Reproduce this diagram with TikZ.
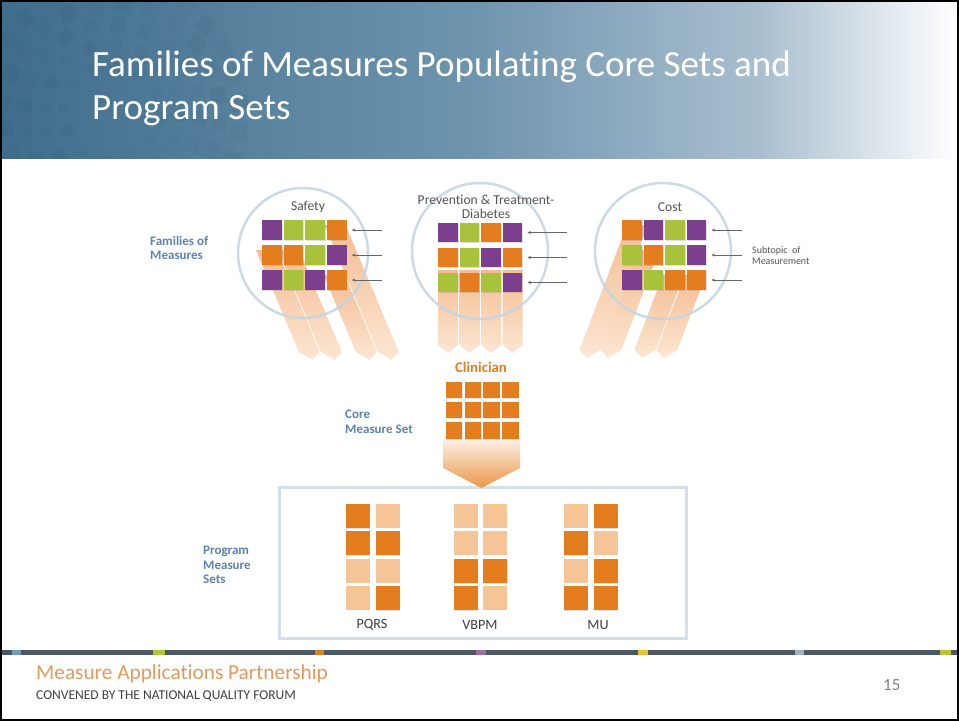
\documentclass[tikz,border=0pt]{standalone}
\usepackage{fontspec}
\setmainfont{Carlito}[Ligatures=NoCommon]
\usetikzlibrary{arrows.meta,shadows}
\definecolor{mpurple}{HTML}{7B3F8E}
\definecolor{mgreen}{HTML}{A8C23C}
\definecolor{morange}{HTML}{E37D1E}
\definecolor{mlight}{HTML}{F5C598}
\definecolor{mblue}{HTML}{5B84B1}
\definecolor{ringc}{HTML}{C3D4E2}
\definecolor{boxc}{HTML}{D3E0EA}
\definecolor{hA}{HTML}{3F6D8C}
\definecolor{hB}{HTML}{6F95AE}
\definecolor{hC}{HTML}{A9BFCF}
\definecolor{barc}{HTML}{4A5866}
\definecolor{beamtop}{HTML}{F3B686}
\definecolor{beambot}{HTML}{FCE4CF}
\definecolor{footor}{HTML}{E39A5C}
\definecolor{txtgray}{HTML}{555555}
\definecolor{segA}{HTML}{6E9BC0}
\definecolor{segB}{HTML}{B5C532}
\definecolor{segC}{HTML}{E37D1E}
\definecolor{segD}{HTML}{9E6BA8}
\definecolor{segE}{HTML}{E8C22A}
\definecolor{segF}{HTML}{9BB2C4}
\begin{document}
\begin{tikzpicture}[x=1pt,y=-1pt,
  fsq/.style={minimum size=19.5pt,inner sep=0pt,draw=none,drop shadow={shadow xshift=0.8pt,shadow yshift=-1.2pt,opacity=0.25}},
  csq/.style={minimum size=16.5pt,inner sep=0pt,fill=morange,drop shadow={shadow xshift=0.6pt,shadow yshift=-1pt,opacity=0.2}},
  psq/.style={minimum size=24pt,inner sep=0pt},
  dark/.style={psq,fill=morange,drop shadow={shadow xshift=0.8pt,shadow yshift=-1.2pt,opacity=0.25}},
  lite/.style={psq,fill=mlight},
  beam/.style={top color=beamtop,bottom color=beambot,draw=none,opacity=0.9},
  ring/.style={draw=ringc,line width=2.5pt,opacity=0.85},
  arr/.style={draw=gray!80!black,line width=0.6pt,-{Stealth[length=3.5pt,width=3pt]},shorten >=5pt},
  head/.style={font=\fontsize{13.6}{14}\selectfont,text=txtgray,inner sep=0pt},
  side/.style={font=\bfseries\fontsize{13}{14.5}\selectfont,text=mblue,align=left,anchor=west,inner sep=0pt},
  plab/.style={font=\fontsize{14.2}{15}\selectfont,text=black!75,inner sep=0pt}
]
\useasboundingbox (0,0) rectangle (959,721);
\fill[white] (0,0) rectangle (959,721);
% header
\shade[left color=hA,right color=hB] (0,0) rectangle (480.5,158);
\shade[left color=hB,right color=hC] (480,0) rectangle (760.5,158);
\shade[left color=hC,right color=white] (760,0) rectangle (959,158);
\begin{scope}
\clip (0,0) rectangle (959,158);
\begin{scope}[shift={(112,112)}]
\foreach \r/\n/\s in {48/12/10,68/16/12,88/20/14,108/24/16,128/28/17}{
  \foreach \i in {1,...,\n}{
    \pgfmathsetmacro\ang{360/\n*\i+7*\r}
    \pgfmathsetmacro\op{mod(\i*7+\r,5)<2 ? 0.11 : 0.05}
    \node[fill=hA!70!black,opacity=\op,minimum size=\s pt,inner sep=0pt,rotate=-\ang] at (\ang:\r) {};
  }
}
\end{scope}
\end{scope}
\node[anchor=base west,text=white,font=\fontsize{37}{40}\selectfont,inner sep=0pt] (title1) at (92,76) {Families of Measures Populating Core Sets and};
\node[anchor=base west,text=white,font=\fontsize{37}{40}\selectfont,inner sep=0pt] (title2) at (92,119) {Program Sets};

% ---- beams ----
\foreach \xl/\ys in {272/250,294/250,329/275,351/225}{
  \pgfmathsetmacro\xa{\xl+0.42*(\ys-288)}
  \pgfmathsetmacro\xb{\xl+0.42*(352-288)}
  \pgfmathsetmacro\xt{\xb+10.5+3.4}
  \shade[beam] (\xa,\ys) -- ++(21,0) -- (\xb+21,352) -- (\xt,360) -- (\xb,352) -- cycle;
}
\foreach \xl in {438,459.5,481,502.5}{
  \shade[beam] (\xl,270) -- ++(20,0) -- (\xl+20,345) -- (\xl+10,353) -- (\xl,345) -- cycle;
}
\foreach \xl/\ys in {603/225,624/250,658/275,680/275}{
  \pgfmathsetmacro\xa{\xl-0.38*(\ys-288)}
  \pgfmathsetmacro\xb{\xl-0.38*(350-288)}
  \pgfmathsetmacro\xt{\xb+10.5-3}
  \shade[beam] (\xa,\ys) -- ++(21,0) -- (\xb+21,350) -- (\xt,358) -- (\xb,350) -- cycle;
}

% ---- circles ----
\node[ring,circle,minimum size=130pt,inner sep=0pt] (c1) at (303,253) {};
\node[ring,circle,minimum size=136pt,inner sep=0pt] (c2) at (480,251) {};
\node[ring,circle,minimum size=136pt,inner sep=0pt] (c3) at (663,251) {};

% ---- family squares ----
\foreach \row/\y/\cols in {1/230/{mpurple,mgreen,mgreen,morange},2/255/{morange,morange,mgreen,mpurple},3/280/{mpurple,mgreen,mpurple,morange}}{
  \foreach \c [count=\k] in \cols {
    \pgfmathsetmacro\xx{272+21.6*(\k-1)}
    \node[fsq,fill=\c] (sa-\row-\k) at (\xx,\y) {};
  }
}
\foreach \row/\y/\cols in {1/232.5/{mpurple,mgreen,morange,mpurple},2/257.5/{morange,mgreen,mpurple,morange},3/282.5/{mgreen,morange,mgreen,mpurple}}{
  \foreach \c [count=\k] in \cols {
    \pgfmathsetmacro\xx{448+21.5*(\k-1)}
    \node[fsq,fill=\c] (pt-\row-\k) at (\xx,\y) {};
  }
}
\foreach \row/\y/\cols in {1/230/{morange,mpurple,mgreen,mpurple},2/255/{mgreen,morange,mgreen,mpurple},3/280/{mpurple,mgreen,morange,morange}}{
  \foreach \c [count=\k] in \cols {
    \pgfmathsetmacro\xx{632+21.5*(\k-1)}
    \node[fsq,fill=\c] (co-\row-\k) at (\xx,\y) {};
  }
}

% ---- arrows ----
\foreach \row/\y in {1/230,2/255,3/280}{
  \coordinate (saa-\row) at (382,\y);
  \draw[arr] (saa-\row) -- (sa-\row-4.east);
  \coordinate (cob-\row) at (742,\y);
  \draw[arr] (cob-\row) -- (co-\row-4.east);
}
\foreach \row/\y in {1/232.5,2/257.5,3/282.5}{
  \coordinate (pta-\row) at (567,\y);
  \draw[arr] (pta-\row) -- (pt-\row-4.east);
}

% ---- headings ----
\node[head] (hsafety) at (308,207) {Safety};
\node[head] (hprev1) at (486,200) {Prevention \& Treatment-};
\node[head] (hprev2) at (486,214) {Diabetes};
\node[head] (hcost) at (670,207) {Cost};
\node[side] (lfam) at (150,248) {Families of\\Measures};
\node[anchor=west,font=\fontsize{10}{11.5}\selectfont,text=txtgray,align=left,inner sep=0pt] (lsub) at (752,255.5) {Subtopic\ \ of\\Measurement};

% ---- program box ----
\node[draw=boxc,line width=3pt,minimum width=407pt,minimum height=151pt,inner sep=0pt] (pbox) at (482.5,562.5) {};

% ---- core measure set ----
\node[font=\bfseries\fontsize{14.8}{16}\selectfont,text=morange,inner sep=0pt] (clin) at (481,367) {Clinician};
\shade[top color=white!85!mlight,bottom color=morange!65!mlight,draw=none] (443,436) -- (520,436) -- (520,468) -- (481.5,488) -- (443,468) -- cycle;
\foreach \row/\y in {1/390,2/410,3/430.5}{
  \foreach \k in {1,...,4}{
    \pgfmathsetmacro\xx{454+18.8*(\k-1)}
    \node[csq] (cm-\row-\k) at (\xx,\y) {};
  }
}
\node[side] (lcore) at (345,422) {Core\\Measure Set};

% ---- program sets ----
\node[side] (lprog) at (203,565) {Program\\Measure\\Sets};
\foreach \name/\xa/\xb/\pat in {pq/357.5/387.5/{dark,lite,dark,dark,lite,lite,lite,dark},vb/465.5/495/{lite,lite,lite,lite,dark,dark,dark,lite},mu/575.5/605.5/{lite,dark,dark,lite,lite,dark,dark,dark}}{
  \foreach \s [count=\k] in \pat {
    \pgfmathtruncatemacro\rr{int((\k-1)/2)}
    \pgfmathtruncatemacro\cc{mod(\k-1,2)}
    \pgfmathsetmacro\xx{\cc==0 ? \xa : \xb}
    \pgfmathsetmacro\yy{515.5+27.5*\rr}
    \node[\s] (\name-\k) at (\xx,\yy) {};
  }
}
\node[plab] (lpq) at (372,625) {PQRS};
\node[plab] (lvb) at (480,625) {VBPM};
\node[plab] (lmu) at (598,625) {MU};

% ---- footer ----
\fill[barc] (0,650) rectangle (959,655);
\foreach \xa/\xb/\cl in {12/21/segA,153/165/segB,315/324/segC,476/486/segD,638/648/segE,795/804/segF,940/951/segB}{
  \fill[\cl] (\xa,650) rectangle (\xb,655);
}
\node[anchor=base west,font=\fontsize{21.3}{23}\selectfont,text=footor,inner sep=0pt] (ffoot1) at (36,679) {Measure Applications Partnership};
\node[anchor=base west,font=\fontsize{13.5}{14}\selectfont,text=black!75,inner sep=0pt] (ffoot2) at (36,699) {CONVENED BY THE NATIONAL QUALITY FORUM};
\node[anchor=base west,font=\fontsize{17}{18}\selectfont,text=black!50,inner sep=0pt] (fpage) at (883,690) {15};
\draw[black,line width=2pt] (1,1) rectangle (958,720);
\end{tikzpicture}
\end{document}
